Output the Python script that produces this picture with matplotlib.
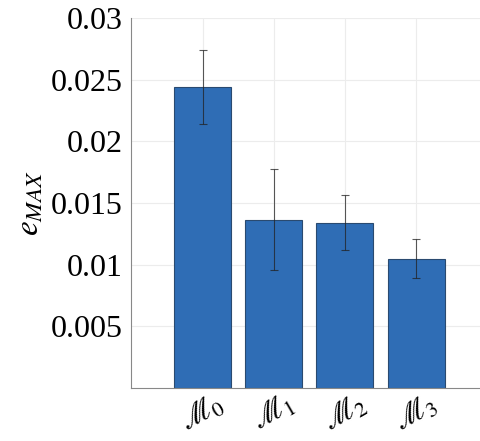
import matplotlib
matplotlib.use('Agg')
import matplotlib.pyplot as plt
import numpy as np

plt.rcParams['font.family'] = 'Liberation Serif'
plt.rcParams['mathtext.fontset'] = 'stix'

models = [r'$\mathscr{M}_0$', r'$\mathscr{M}_1$', r'$\mathscr{M}_2$', r'$\mathscr{M}_3$']
e_max = [0.02440, 0.01365, 0.01340, 0.01048]
e_std = [0.00300, 0.00408, 0.00224, 0.00158]
yticks = [0.005, 0.01, 0.015, 0.02, 0.025, 0.03]
ytick_labels = ['0.005', '0.01', '0.015', '0.02', '0.025', '0.03']

fig = plt.figure(figsize=(4.81, 4.41), dpi=100)
ax = fig.add_axes([0.273, 0.12, 0.74, 0.839])

x = np.arange(1, len(models) + 1)
ax.bar(x, e_max, width=0.8, color='#2f6db5', edgecolor='#2a4a70', linewidth=0.8, zorder=2)
ax.errorbar(x, e_max, yerr=e_std, fmt='none', ecolor='#222222', elinewidth=0.8,
            capsize=3, capthick=0.8, alpha=0.75, zorder=3)

ax.set_xlim(0, 5)
ax.set_ylim(0, 0.03)
ax.set_xticks(x)
ax.set_xticklabels(models, fontsize=22, rotation=30)
ax.set_yticks(yticks)
ax.set_yticklabels(ytick_labels, fontsize=23)
ax.tick_params(axis='y', length=0, pad=6)
ax.tick_params(axis='x', length=0, pad=1)

ax.grid(True, color='#ececec', linewidth=0.8, zorder=0)
ax.set_axisbelow(True)
for s in ['top', 'right']:
    ax.spines[s].set_visible(False)
for s in ['left', 'bottom']:
    ax.spines[s].set_color('#888888')
    ax.spines[s].set_linewidth(0.8)

ax.set_ylabel(r'$e_{MAX}$', fontsize=24, labelpad=4)

fig.savefig('out.png', dpi=100)
